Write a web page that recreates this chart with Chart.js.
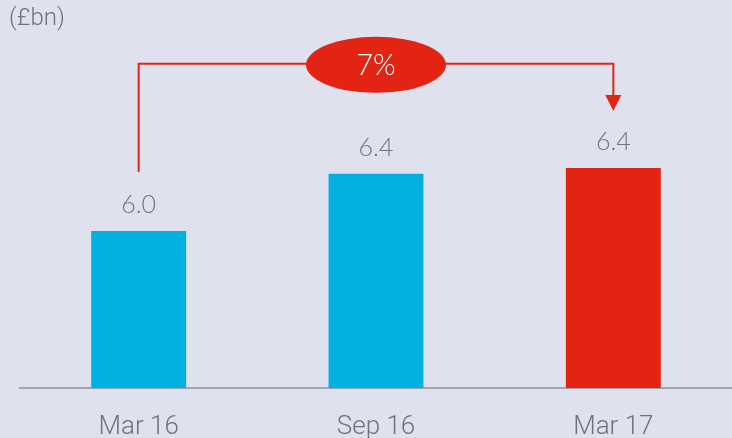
<!DOCTYPE html>
<html>
<head>
<meta charset="utf-8">
<script src="https://cdn.jsdelivr.net/npm/chart.js@4"></script>
<style>
  html, body { margin: 0; padding: 0; background: #dfe2ee; }
  #wrap { position: relative; width: 732px; height: 438px; }
  #unit { position: absolute; left: 9px; top: 3px; font: 300 24px Roboto, sans-serif; color: #6f7280; }
</style>
</head>
<body>
<div id="wrap">
  <div id="unit">(£bn)</div>
  <canvas id="chart" width="732" height="438"></canvas>
</div>
<script>
/* --------------- Data --------------------- */
const periods = ["Mar 16", "Sep 16", "Mar 17"];
const values = [6.0, 6.4, 6.44];
const valueLabels = ["6.0", "6.4", "6.4"];
const barColors = ["#00b0e1", "#00b0e1", "#e32412"];
const growthLabel = "7%";

const textGrey = "#6f7280";
const red = "#e32412";

/* --------------- Growth bracket + value labels --------------------- */
const bracketPlugin = {
  id: "bracket",
  afterDatasetsDraw(chart) {
    const { ctx, scales: { x, y } } = chart;
    const meta = chart.getDatasetMeta(0);
    ctx.save();

    // value labels above bars
    ctx.fillStyle = textGrey;
    ctx.font = "300 25px Lato, sans-serif";
    ctx.textAlign = "center";
    ctx.textBaseline = "middle";
    meta.data.forEach((bar, i) => {
      ctx.fillText(valueLabels[i], bar.x, bar.y - 26);
    });

    // bracket from first to last bar
    const first = meta.data[0];
    const last = meta.data[meta.data.length - 1];
    const lineY = y.getPixelForValue(7.17);
    const startY = first.y - 59;
    const tipY = last.y - 57;
    ctx.strokeStyle = red;
    ctx.lineWidth = 2;
    ctx.beginPath();
    ctx.moveTo(first.x, startY);
    ctx.lineTo(first.x, lineY);
    ctx.lineTo(last.x, lineY);
    ctx.lineTo(last.x, tipY - 14);
    ctx.stroke();
    // arrow head
    ctx.fillStyle = red;
    ctx.beginPath();
    ctx.moveTo(last.x - 8, tipY - 16);
    ctx.lineTo(last.x + 8, tipY - 16);
    ctx.lineTo(last.x, tipY);
    ctx.closePath();
    ctx.fill();

    // ellipse with growth figure
    const cx = meta.data[1].x;
    ctx.beginPath();
    ctx.ellipse(cx, lineY + 1, 70, 28, 0, 0, Math.PI * 2);
    ctx.fill();
    ctx.fillStyle = "#ffffff";
    ctx.font = "300 29px Lato, sans-serif";
    ctx.fillText(growthLabel, cx, lineY + 2);
    ctx.restore();
  },
};

/* --------------- Chart --------------------- */
let barChart = new Chart(document.getElementById("chart"), {
  type: "bar",
  plugins: [bracketPlugin],
  data: {
    labels: periods,
    datasets: [
      {
        data: values,
        backgroundColor: barColors,
        barPercentage: 0.4,
        categoryPercentage: 1,
      },
    ],
  },
  options: {
    responsive: false,
    animation: false,
    layout: { padding: { left: 20, right: 0, top: 31, bottom: 0 } },
    plugins: {
      legend: { display: false },
      tooltip: { enabled: false },
    },
    scales: {
      x: {
        grid: { display: false },
        border: { display: true, color: "#a3a5ad", width: 2 },
        ticks: {
          color: textGrey,
          font: { family: "Roboto", weight: 300, size: 26 },
          padding: 16,
        },
        afterFit: (scale) => {
          scale.height = 50;
        },
      },
      y: {
        display: false,
        min: 4.9,
        max: 7.4,
      },
    },
  },
});
</script>
</body>
</html>
